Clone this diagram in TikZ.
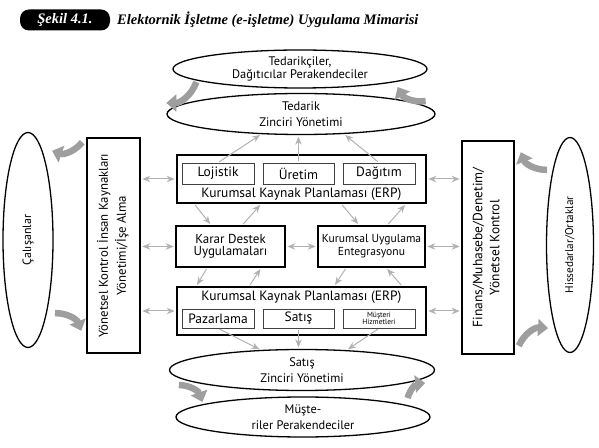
\documentclass[tikz,border=0pt]{standalone}
\usepackage{fontspec}
\usepackage{graphicx}
\setmainfont{PT Sans}
\newfontfamily\titlefont{Liberation Serif}
\usetikzlibrary{arrows.meta,shapes.geometric}

\begin{document}
\begin{tikzpicture}[x=1pt,y=1pt,
    font=\fontsize{13.5}{15}\selectfont,
    bigbox/.style={draw,line width=1.6pt,inner sep=0pt,align=center},
    subbox/.style={draw=black!75,line width=0.8pt,minimum width=72pt,minimum height=21pt,inner sep=0pt},
    oval/.style={ellipse,draw,line width=1.3pt,inner sep=0pt,align=center},
    link/.style={draw=black!30,line width=1pt,-{Stealth[length=8pt,width=6.5pt]},shorten >=1.5pt,shorten <=1.5pt},
    dlink/.style={link,{Stealth[length=8pt,width=6.5pt]}-{Stealth[length=8pt,width=6.5pt]}},
    loopflow/.style={draw=black!38,line width=6.5pt,-{Triangle[length=10pt,width=17pt]},bend left=35}]
  \useasboundingbox (0,0) rectangle (599,447);

  % title
  \node[fill=black,rounded corners=9pt,text=white,minimum width=90pt,minimum height=21pt,inner sep=0pt,
        font=\titlefont\bfseries\itshape\fontsize{14.5}{16}\selectfont] (badge) at (65,427) {Şekil 4.1.};
  \node[anchor=west,inner sep=0pt,font=\titlefont\bfseries\itshape\fontsize{14.5}{16}\selectfont] (title) at (117,427)
    {Elektornik İşletme (e-işletme) Uygulama Mimarisi};

  % supply side
  \node[oval,minimum width=254pt,minimum height=38pt,font=\fontsize{12.4}{13}\selectfont] (tedarikci) at (300,378)
    {Tedarikçiler,\\Dağıtıcılar Perakendeciler};
  \node[oval,minimum width=268pt,minimum height=41pt,font=\fontsize{12.4}{16}\selectfont] (tedarik) at (301,333)
    {Tedarik\\Zinciri Yönetimi};

  % side columns
  \node[oval,minimum width=50pt,minimum height=215pt,font=\fontsize{12}{12}\selectfont] (calisan) at (28,207)
    {\rotatebox{90}{Çalışanlar}};
  \node[bigbox,minimum width=53pt,minimum height=215pt,font=\fontsize{12.8}{14}\selectfont] (ik) at (113.5,201.5)
    {\rotatebox{90}{\begin{tabular}{@{}c@{}}Yönetsel Kontrol İnsan Kaynakları\\[3pt]Yönetimi/İşe Alma\end{tabular}}};
  \node[bigbox,minimum width=52pt,minimum height=213pt,font=\fontsize{13.5}{14}\selectfont] (finans) at (488,199.5)
    {\rotatebox{90}{\begin{tabular}{@{}c@{}}Finans/Muhasebe/Denetim/\\[3pt]Yönetsel Kontrol\end{tabular}}};
  \node[oval,minimum width=47pt,minimum height=215pt,font=\fontsize{11.2}{12}\selectfont] (hissedar) at (570,202)
    {\rotatebox{90}{Hissedarlar/Ortaklar}};

  % ERP top
  \node[bigbox,minimum width=249pt,minimum height=48pt] (erpTop) at (301.5,268) {};
  \node[subbox] (lojistik) at (218,273.5) {Lojistik};
  \node[subbox,minimum width=71pt] (uretim) at (298.5,273.5) {Üretim};
  \node[subbox] (dagitim) at (379,273.5) {Dağıtım};
  \node (erpTopLabel) at (301.5,252.5) {Kurumsal Kaynak Planlaması (ERP)};

  % middle
  \node[bigbox,minimum width=109pt,minimum height=41pt,font=\fontsize{13}{12}\selectfont] (karar) at (230.5,200.5)
    {Karar Destek\\Uygulamaları};
  \node[bigbox,minimum width=107pt,minimum height=41pt,font=\fontsize{11.6}{13}\selectfont] (kua) at (371.5,200.5)
    {Kurumsal Uygulama\\Entegrasyonu};

  % ERP bottom
  \node[bigbox,minimum width=249pt,minimum height=48pt] (erpBot) at (301.5,136) {};
  \node (erpBotLabel) at (301.5,150) {Kurumsal Kaynak Planlaması (ERP)};
  \node[subbox,minimum height=19pt] (pazarlama) at (218,128.5) {Pazarlama};
  \node[subbox,minimum width=71pt,minimum height=19pt] (satisbox) at (298.5,128.5) {Satış};
  \node[subbox,minimum height=19pt,align=center,font=\fontsize{7.5}{7}\selectfont] (hizmet) at (379,128.5)
    {Müşteri\\Hizmetleri};

  % demand side
  \node[oval,minimum width=265pt,minimum height=41pt,font=\fontsize{12.4}{16}\selectfont] (satis) at (302,77)
    {Satış\\Zinciri Yönetimi};
  \node[oval,minimum width=254pt,minimum height=40pt,font=\fontsize{12.4}{16}\selectfont] (musteri) at (303,30)
    {Müşte-\\riler Perakendeciler};

  % thin links
  \draw[link] (lojistik.north) -- (tedarik.207);
  \draw[link] (uretim.north) -- (uretim.north |- tedarik.south);
  \draw[link] (dagitim.north) -- (tedarik.-25);
  \draw[dlink] (ik.east |- erpTop) -- (erpTop.west);
  \draw[dlink] (ik.east |- karar) -- (karar.west);
  \draw[dlink] (ik.east |- erpBot) -- (erpBot.west);
  \draw[dlink] (karar.east) -- (kua.west);
  \draw[dlink] (kua.east) -- (finans.west |- kua);
  \draw[dlink] (erpTop.east) -- (finans.west |- erpTop);
  \draw[dlink] (erpBot.east) -- (finans.west |- erpBot);
  \draw[link] ([xshift=18pt]erpTop.south west) -- ([xshift=36pt]karar.north west);
  \draw[link] ([xshift=67pt]karar.north west) -- ([xshift=85pt]erpTop.south west);
  \draw[link] ([xshift=165pt]erpTop.south west) -- ([xshift=42pt]kua.north west);
  \draw[link] ([xshift=70pt]kua.north west) -- ([xshift=230pt]erpTop.south west);
  \draw[link] ([xshift=32pt]karar.south west) -- ([xshift=20pt]erpBot.north west);
  \draw[link] ([xshift=73pt]erpBot.north west) -- ([xshift=86pt]karar.south west);
  \draw[link] ([xshift=29pt]kua.south west) -- ([xshift=158pt]erpBot.north west);
  \draw[link] ([xshift=226pt]erpBot.north west) -- ([xshift=69pt]kua.south west);
  \draw[link] (pazarlama.south) -- (satis.154);
  \draw[link] (satisbox.south) -- (satisbox.south |- satis.north);
  \draw[link] (hizmet.south) -- (satis.24);

  % big flow arrows
  \draw[loopflow] ([xshift=24pt,yshift=-13pt]tedarikci.west) to ([yshift=11pt]tedarik.west);
  \draw[loopflow] ([xshift=-10pt,yshift=13pt]tedarik.east) to ([xshift=-30pt,yshift=-18pt]tedarikci.east);
  \draw[loopflow] ([xshift=-4pt,yshift=-5pt]ik.north west) to ([xshift=24pt,yshift=-19pt]calisan.north);
  \draw[loopflow] ([xshift=27pt,yshift=35pt]calisan.south) to ([xshift=-5pt,yshift=23pt]ik.south west);
  \draw[loopflow] ([xshift=-23pt,yshift=-33pt]hissedar.north) to ([xshift=6pt,yshift=-12pt]finans.north east);
  \draw[loopflow] ([xshift=4pt,yshift=9pt]finans.south east) to ([xshift=-22pt,yshift=25pt]hissedar.south);
  \draw[loopflow] ([xshift=10pt,yshift=-15pt]satis.west) to ([xshift=27pt,yshift=15pt]musteri.west);
  \draw[loopflow] ([xshift=-23pt,yshift=19pt]musteri.east) to ([xshift=-10pt,yshift=-13pt]satis.east);
\end{tikzpicture}
\end{document}
